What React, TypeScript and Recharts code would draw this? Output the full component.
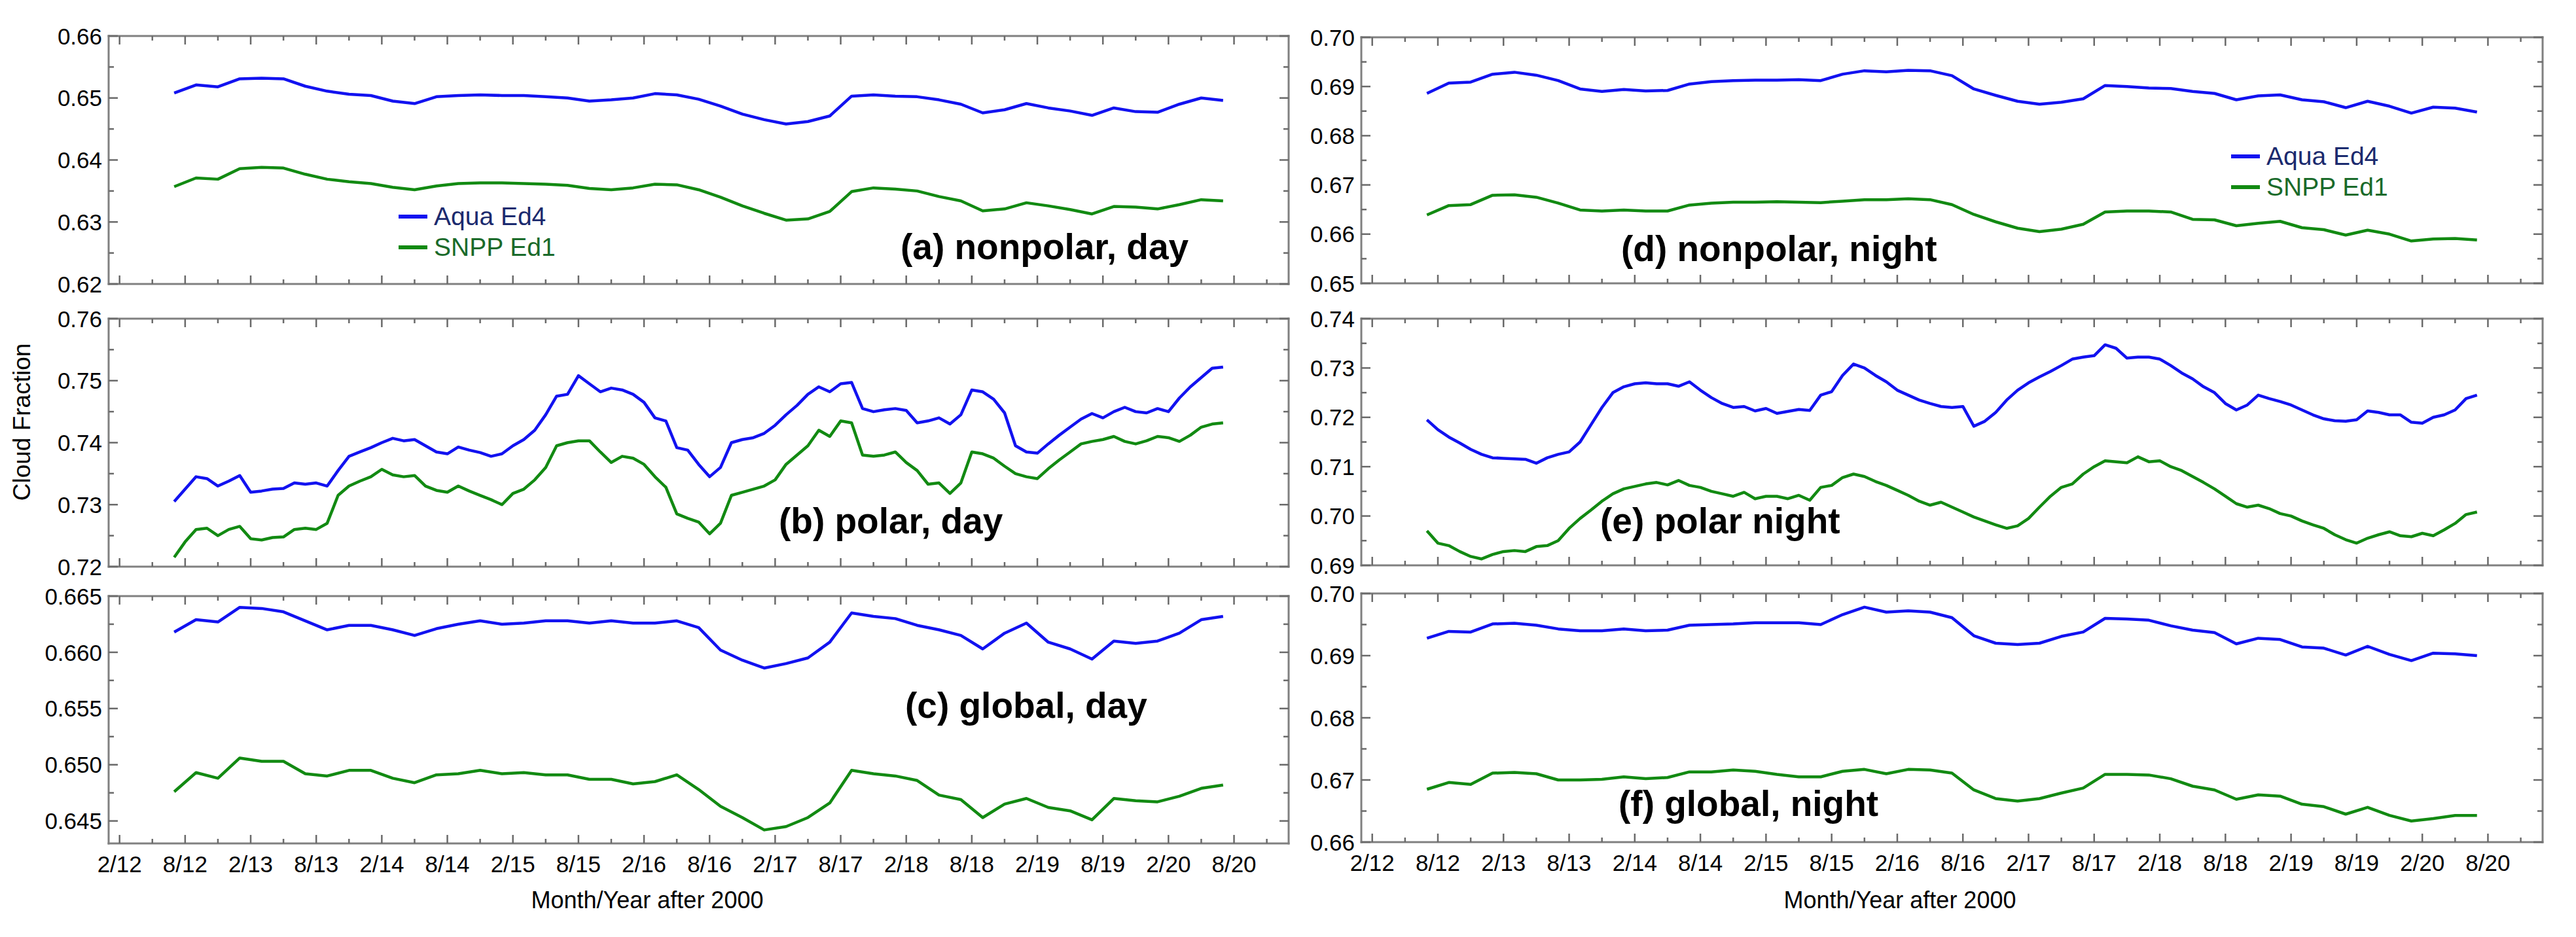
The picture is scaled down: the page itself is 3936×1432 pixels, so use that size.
import React from 'react';
import { LineChart, Line, XAxis, YAxis, Legend } from 'recharts';

const FONT = '"Liberation Sans", Arial, Helvetica, sans-serif';
const BLUE = '#1212f0';
const GREEN = '#128a12';
const FRAME = '#808080';
const TICK = '#6a6a6a';
const LEGEND_TEXT: Record<string, string> = { 'Aqua Ed4': '#1b2a6e', 'SNPP Ed1': '#1a6a2a' };

// x = months counted from January 2012 (0 = 1/12, 108 = 1/21)
const X_MAJOR = [1, 7, 13, 19, 25, 31, 37, 43, 49, 55, 61, 67, 73, 79, 85, 91, 97, 103];
const X_LABELS = ['2/12', '8/12', '2/13', '8/13', '2/14', '8/14', '2/15', '8/15', '2/16', '8/16', '2/17', '8/17', '2/18', '8/18', '2/19', '8/19', '2/20', '8/20'];
const X_MINOR = [4, 10, 16, 22, 28, 34, 40, 46, 52, 58, 64, 70, 76, 82, 88, 94, 100, 106];
const X_TICKS = [...X_MAJOR, ...X_MINOR].sort((a, b) => a - b);

const MONTHS_2 = [6, 8, 10, 12, 14, 16, 18, 20, 22, 24, 26, 28, 30, 32, 34, 36, 38, 40, 42, 44, 46, 48, 50, 52, 54, 56, 58, 60, 62, 64, 66, 68, 70, 72, 74, 76, 78, 80, 82, 84, 86, 88, 90, 92, 94, 96, 98, 100, 102];
const MONTHS_1 = [6, 7, 8, 9, 10, 11, 12, 13, 14, 15, 16, 17, 18, 19, 20, 21, 22, 23, 24, 25, 26, 27, 28, 29, 30, 31, 32, 33, 34, 35, 36, 37, 38, 39, 40, 41, 42, 43, 44, 45, 46, 47, 48, 49, 50, 51, 52, 53, 54, 55, 56, 57, 58, 59, 60, 61, 62, 63, 64, 65, 66, 67, 68, 69, 70, 71, 72, 73, 74, 75, 76, 77, 78, 79, 80, 81, 82, 83, 84, 85, 86, 87, 88, 89, 90, 91, 92, 93, 94, 95, 96, 97, 98, 99, 100, 101, 102];

// (a) nonpolar, day
const A_AQUA = [0.6508, 0.6521, 0.6518, 0.6531, 0.6532, 0.6531, 0.6519, 0.6511, 0.6506, 0.6504, 0.6495, 0.6491, 0.6502, 0.6504, 0.6505, 0.6504, 0.6504, 0.6502, 0.65, 0.6495, 0.6497, 0.65, 0.6507, 0.6505, 0.6498, 0.6487, 0.6474, 0.6465, 0.6458, 0.6462, 0.6471, 0.6503, 0.6505, 0.6503, 0.6502, 0.6497, 0.649, 0.6476, 0.6481, 0.6491, 0.6484, 0.6479, 0.6472, 0.6484, 0.6478, 0.6477, 0.649, 0.65, 0.6496];
const A_SNPP = [0.6357, 0.6371, 0.6369, 0.6386, 0.6388, 0.6387, 0.6377, 0.6369, 0.6365, 0.6362, 0.6356, 0.6352, 0.6358, 0.6362, 0.6363, 0.6363, 0.6362, 0.6361, 0.6359, 0.6354, 0.6352, 0.6355, 0.6361, 0.636, 0.6352, 0.634, 0.6326, 0.6314, 0.6303, 0.6305, 0.6317, 0.6349, 0.6355, 0.6353, 0.635, 0.6341, 0.6334, 0.6318, 0.6321, 0.6331, 0.6326, 0.632, 0.6313, 0.6325, 0.6324, 0.6321, 0.6328, 0.6336, 0.6334];

// (b) polar, day
const B_AQUA = [0.7305, 0.7325, 0.7345, 0.7342, 0.733, 0.7338, 0.7347, 0.732, 0.7322, 0.7325,
  0.7326, 0.7335, 0.7333, 0.7335, 0.733, 0.7355, 0.7378, 0.7385, 0.7392, 0.74,
  0.7407, 0.7403, 0.7405, 0.7395, 0.7385, 0.7382, 0.7393, 0.7388, 0.7384, 0.7378,
  0.7382, 0.7395, 0.7405, 0.742, 0.7445, 0.7475, 0.7478, 0.7508, 0.7495, 0.7482,
  0.7488, 0.7485, 0.7478, 0.7465, 0.744, 0.7435, 0.7392, 0.7388, 0.7365, 0.7345,
  0.736, 0.74, 0.7405, 0.7408, 0.7415, 0.7428, 0.7445, 0.746, 0.7478, 0.749,
  0.7482, 0.7495, 0.7497, 0.7455, 0.745, 0.7453, 0.7455, 0.7452, 0.7432, 0.7435,
  0.744, 0.743, 0.7445, 0.7485, 0.7482, 0.747, 0.7448, 0.7395, 0.7385, 0.7383,
  0.7398, 0.7412, 0.7425, 0.7438, 0.7447, 0.744, 0.745, 0.7457, 0.745, 0.7448,
  0.7455, 0.745, 0.7472, 0.749, 0.7505, 0.752, 0.7522];
const B_SNPP = [0.7215, 0.724, 0.726, 0.7262, 0.725, 0.726, 0.7265, 0.7245, 0.7243, 0.7247,
  0.7248, 0.726, 0.7262, 0.726, 0.727, 0.7315, 0.733, 0.7338, 0.7345, 0.7357,
  0.7348, 0.7345, 0.7347, 0.733, 0.7323, 0.732, 0.733, 0.7322, 0.7315, 0.7308,
  0.73, 0.7318, 0.7325, 0.734, 0.736, 0.7395, 0.74, 0.7403, 0.7403, 0.7385,
  0.7368, 0.7378, 0.7375, 0.7365, 0.7345, 0.7328, 0.7285, 0.7278, 0.7272, 0.7253,
  0.727, 0.7315, 0.732, 0.7325, 0.733, 0.734, 0.7365, 0.738, 0.7395, 0.742,
  0.741, 0.7435, 0.7432, 0.738, 0.7378, 0.738, 0.7385, 0.7368, 0.7355, 0.7333,
  0.7335, 0.7318, 0.7335, 0.7385, 0.7382, 0.7375, 0.7362, 0.735, 0.7345, 0.7342,
  0.7358, 0.7372, 0.7385, 0.7398, 0.7402, 0.7405, 0.741, 0.7402, 0.7398, 0.7403,
  0.741, 0.7408, 0.7402, 0.7412, 0.7425, 0.743, 0.7432];

// (c) global, day
const C_AQUA = [0.6618, 0.6629, 0.6627, 0.664, 0.6639, 0.6636, 0.6628, 0.662, 0.6624, 0.6624, 0.662, 0.6615, 0.6621, 0.6625, 0.6628, 0.6625, 0.6626, 0.6628, 0.6628, 0.6626, 0.6628, 0.6626, 0.6626, 0.6628, 0.6622, 0.6602, 0.6593, 0.6586, 0.659, 0.6595, 0.6609, 0.6635, 0.6632, 0.663, 0.6624, 0.662, 0.6615, 0.6603, 0.6617, 0.6626, 0.6609, 0.6603, 0.6594, 0.661, 0.6608, 0.661, 0.6617, 0.6629, 0.6632];
const C_SNPP = [0.6476, 0.6493, 0.6488, 0.6506, 0.6503, 0.6503, 0.6492, 0.649, 0.6495, 0.6495, 0.6488, 0.6484, 0.6491, 0.6492, 0.6495, 0.6492, 0.6493, 0.6491, 0.6491, 0.6487, 0.6487, 0.6483, 0.6485, 0.6491, 0.6478, 0.6463, 0.6453, 0.6442, 0.6445, 0.6453, 0.6466, 0.6495, 0.6492, 0.649, 0.6486, 0.6473, 0.6469, 0.6453, 0.6465, 0.647, 0.6462, 0.6459, 0.6451, 0.647, 0.6468, 0.6467, 0.6472, 0.6479, 0.6482];

// (d) nonpolar, night
const D_AQUA = [0.6886, 0.6907, 0.6909, 0.6925, 0.6929, 0.6923, 0.6912, 0.6895, 0.689, 0.6894, 0.6891, 0.6892, 0.6905, 0.691, 0.6912, 0.6913, 0.6913, 0.6914, 0.6912, 0.6925, 0.6932, 0.693, 0.6933, 0.6932, 0.6922, 0.6895, 0.6882, 0.687, 0.6864, 0.6868, 0.6875, 0.6902, 0.69, 0.6897, 0.6896, 0.689, 0.6886, 0.6873, 0.6881, 0.6883, 0.6873, 0.6869, 0.6857, 0.687, 0.686, 0.6846, 0.6858, 0.6856, 0.6848];
const D_SNPP = [0.6639, 0.6658, 0.666, 0.6679, 0.668, 0.6675, 0.6663, 0.6649, 0.6647, 0.6649, 0.6647, 0.6647, 0.6659, 0.6663, 0.6665, 0.6665, 0.6666, 0.6665, 0.6664, 0.6667, 0.667, 0.667, 0.6672, 0.667, 0.666, 0.664, 0.6625, 0.6612, 0.6605, 0.661, 0.662, 0.6645, 0.6647, 0.6647, 0.6645, 0.663, 0.6629, 0.6617, 0.6622, 0.6626, 0.6613, 0.6609, 0.6598, 0.6608, 0.66, 0.6586, 0.659, 0.6591, 0.6588];

// (e) polar night
const E_AQUA = [0.7195, 0.7175, 0.716, 0.7148, 0.7135, 0.7125, 0.7118, 0.7117, 0.7116, 0.7115,
  0.7107, 0.7118, 0.7125, 0.713, 0.715, 0.7185, 0.722, 0.725, 0.7262, 0.7268,
  0.727, 0.7268, 0.7268, 0.7263, 0.7272, 0.7255, 0.724, 0.7228, 0.722, 0.7222,
  0.7213, 0.7218, 0.7208, 0.7212, 0.7216, 0.7214, 0.7245, 0.7252, 0.7285, 0.7308,
  0.73, 0.7285, 0.7272, 0.7255, 0.7245, 0.7235, 0.7228, 0.7222, 0.722, 0.7222,
  0.7182, 0.7192, 0.721, 0.7235, 0.7255, 0.727, 0.7282, 0.7293, 0.7305, 0.7318,
  0.7322, 0.7325, 0.7347, 0.734, 0.732, 0.7322, 0.7322, 0.7318, 0.7305, 0.729,
  0.7278, 0.7262, 0.725, 0.7228, 0.7215, 0.7225, 0.7245, 0.7238, 0.7232, 0.7225,
  0.7215, 0.7205, 0.7197, 0.7193, 0.7192, 0.7195, 0.7213, 0.721, 0.7205, 0.7205,
  0.719, 0.7188, 0.72, 0.7205, 0.7215, 0.7238, 0.7245];
const E_SNPP = [0.697, 0.6945, 0.694, 0.6928, 0.6918, 0.6913, 0.6922, 0.6928, 0.693, 0.6928,
  0.6938, 0.694, 0.695, 0.6975, 0.6995, 0.7012, 0.703, 0.7045, 0.7055, 0.706,
  0.7065, 0.7068, 0.7063, 0.7072, 0.7062, 0.7058, 0.705, 0.7045, 0.704, 0.7048,
  0.7035, 0.704, 0.704, 0.7035, 0.7042, 0.7032, 0.7058, 0.7062, 0.7078, 0.7085,
  0.708, 0.707, 0.7062, 0.7052, 0.7042, 0.703, 0.7022, 0.7028, 0.7018, 0.7008,
  0.6998, 0.699, 0.6982, 0.6975, 0.698, 0.6995, 0.7018, 0.704, 0.7058, 0.7065,
  0.7085, 0.71, 0.7112, 0.711, 0.7108, 0.712, 0.711, 0.7112, 0.71, 0.7092,
  0.708, 0.7068, 0.7055, 0.704, 0.7025, 0.7018, 0.7022, 0.7015, 0.7005, 0.7,
  0.699, 0.6982, 0.6975, 0.6962, 0.6952, 0.6945, 0.6955, 0.6962, 0.6968, 0.696,
  0.6958, 0.6965, 0.696, 0.6972, 0.6985, 0.7003, 0.7008];

// (f) global, night
const F_AQUA = [0.6928, 0.6939, 0.6938, 0.6951, 0.6952, 0.6949, 0.6943, 0.694, 0.694, 0.6943, 0.694, 0.6941, 0.6949, 0.695, 0.6951, 0.6953, 0.6953, 0.6953, 0.695, 0.6966, 0.6978, 0.697, 0.6972, 0.697, 0.6961, 0.6932, 0.692, 0.6918, 0.692, 0.6931, 0.6938, 0.696, 0.6959, 0.6957, 0.6948, 0.6941, 0.6937, 0.6919, 0.6928, 0.6926, 0.6914, 0.6912, 0.6901, 0.6915, 0.6902, 0.6892, 0.6904, 0.6903, 0.69];
const F_SNPP = [0.6685, 0.6696, 0.6693, 0.6711, 0.6712, 0.671, 0.67, 0.67, 0.6701, 0.6705, 0.6702, 0.6704, 0.6713, 0.6713, 0.6716, 0.6714, 0.6709, 0.6705, 0.6705, 0.6714, 0.6717, 0.671, 0.6717, 0.6716, 0.6711, 0.6684, 0.667, 0.6666, 0.667, 0.6679, 0.6687, 0.6709, 0.6709, 0.6708, 0.6702, 0.669, 0.6684, 0.6669, 0.6676, 0.6674, 0.6661, 0.6657, 0.6645, 0.6656, 0.6643, 0.6634, 0.6638, 0.6643, 0.6643];

// y-axis ticks per panel
const A_Y_MAJOR = [0.62, 0.63, 0.64, 0.65, 0.66];
const A_Y_LABELS = ['0.62', '0.63', '0.64', '0.65', '0.66'];
const A_Y_MINOR = [0.625, 0.635, 0.645, 0.655];
const B_Y_MAJOR = [0.72, 0.73, 0.74, 0.75, 0.76];
const B_Y_LABELS = ['0.72', '0.73', '0.74', '0.75', '0.76'];
const B_Y_MINOR = [0.725, 0.735, 0.745, 0.755];
const C_Y_MAJOR = [0.645, 0.65, 0.655, 0.66, 0.665];
const C_Y_LABELS = ['0.645', '0.650', '0.655', '0.660', '0.665'];
const C_Y_MINOR = [0.6475, 0.6525, 0.6575, 0.6625];
const D_Y_MAJOR = [0.65, 0.66, 0.67, 0.68, 0.69, 0.7];
const D_Y_LABELS = ['0.65', '0.66', '0.67', '0.68', '0.69', '0.70'];
const D_Y_MINOR = [0.655, 0.665, 0.675, 0.685, 0.695];
const E_Y_MAJOR = [0.69, 0.7, 0.71, 0.72, 0.73, 0.74];
const E_Y_LABELS = ['0.69', '0.70', '0.71', '0.72', '0.73', '0.74'];
const E_Y_MINOR = [0.695, 0.705, 0.715, 0.725, 0.735];
const F_Y_MAJOR = [0.66, 0.67, 0.68, 0.69, 0.7];
const F_Y_LABELS = ['0.66', '0.67', '0.68', '0.69', '0.70'];
const F_Y_MINOR = [0.665, 0.675, 0.685, 0.695];

const PAD_TOP = 30;

const PANELS = [
  { title: '(a) nonpolar, day', tx: 1376, ty: 396, box: [166, 1969, 55, 434], months: MONTHS_2, aqua: A_AQUA, snpp: A_SNPP, domain: [0.62, 0.66], yMajor: A_Y_MAJOR, yLabels: A_Y_LABELS, yMinor: A_Y_MINOR, xLabels: false, legend: { left: 583, top: 282 } },
  { title: '(b) polar, day', tx: 1190, ty: 815, box: [166, 1969, 487, 866], months: MONTHS_1, aqua: B_AQUA, snpp: B_SNPP, domain: [0.72, 0.76], yMajor: B_Y_MAJOR, yLabels: B_Y_LABELS, yMinor: B_Y_MINOR, xLabels: false, legend: null },
  { title: '(c) global, day', tx: 1383, ty: 1097, box: [166, 1969, 911, 1289], months: MONTHS_2, aqua: C_AQUA, snpp: C_SNPP, domain: [0.643, 0.665], yMajor: C_Y_MAJOR, yLabels: C_Y_LABELS, yMinor: C_Y_MINOR, xLabels: true, legend: null },
  { title: '(d) nonpolar, night', tx: 2477, ty: 399, box: [2080, 3885, 57, 433], months: MONTHS_2, aqua: D_AQUA, snpp: D_SNPP, domain: [0.65, 0.7], yMajor: D_Y_MAJOR, yLabels: D_Y_LABELS, yMinor: D_Y_MINOR, xLabels: false, legend: { left: 1469, top: 188 } },
  { title: '(e) polar night', tx: 2445, ty: 815, box: [2080, 3885, 487, 864], months: MONTHS_1, aqua: E_AQUA, snpp: E_SNPP, domain: [0.69, 0.74], yMajor: E_Y_MAJOR, yLabels: E_Y_LABELS, yMinor: E_Y_MINOR, xLabels: false, legend: null },
  { title: '(f) global, night', tx: 2473, ty: 1247, box: [2080, 3885, 907, 1287], months: MONTHS_2, aqua: F_AQUA, snpp: F_SNPP, domain: [0.66, 0.7], yMajor: F_Y_MAJOR, yLabels: F_Y_LABELS, yMinor: F_Y_MINOR, xLabels: true, legend: null },
];

const frameLine = { stroke: FRAME, strokeWidth: 3, strokeLinecap: 'square' as const };

const findTick = (arr: number[], v: number) => arr.findIndex((a) => Math.abs(a - v) < 1e-9);

const bottomTick = (withLabels: boolean) => (p: any) => {
  const i = X_MAJOR.indexOf(p.payload.value);
  const len = i >= 0 ? 13 : 7;
  return (
    <g>
      <line x1={p.x} y1={p.y} x2={p.x} y2={p.y - len} stroke={TICK} strokeWidth={2.5} />
      {withLabels && i >= 0 ? (
        <text x={p.x} y={p.y + 44} textAnchor="middle" fontSize={35} fontFamily={FONT} fill="#000">
          {X_LABELS[i]}
        </text>
      ) : null}
    </g>
  );
};

const topTick = (p: any) => {
  const len = X_MAJOR.indexOf(p.payload.value) >= 0 ? 13 : 7;
  return <line x1={p.x} y1={p.y} x2={p.x} y2={p.y + len} stroke={TICK} strokeWidth={2.5} />;
};

const leftTick = (major: number[], labels: string[]) => (p: any) => {
  const i = findTick(major, p.payload.value);
  const len = i >= 0 ? 14 : 8;
  return (
    <g>
      <line x1={p.x} y1={p.y} x2={p.x + len} y2={p.y} stroke={TICK} strokeWidth={2.5} />
      {i >= 0 ? (
        <text x={p.x - 10} y={p.y} dy="0.36em" textAnchor="end" fontSize={35} fontFamily={FONT} fill="#000">
          {labels[i]}
        </text>
      ) : null}
    </g>
  );
};

const rightTick = (major: number[]) => (p: any) => {
  const len = findTick(major, p.payload.value) >= 0 ? 14 : 8;
  return <line x1={p.x} y1={p.y} x2={p.x - len} y2={p.y} stroke={TICK} strokeWidth={2.5} />;
};

const renderLegend = (props: any) => (
  <div style={{ fontFamily: FONT, fontSize: 39 }}>
    {(props.payload || []).map((e: any) => (
      <div key={e.value} style={{ display: 'flex', alignItems: 'center', height: 47, whiteSpace: 'nowrap' }}>
        <span style={{ display: 'inline-block', width: 44, height: 6, background: e.color, marginRight: 10 }} />
        <span style={{ color: LEGEND_TEXT[e.value], lineHeight: '47px' }}>{e.value}</span>
      </div>
    ))}
  </div>
);

function Panel({ cfg }: { cfg: (typeof PANELS)[number] }) {
  const [L, R, T, B] = cfg.box;
  const bottomH = cfg.xLabels ? 70 : 20;
  const W = R - L + 160;
  const H = B - T + PAD_TOP + bottomH;
  const data = cfg.months.map((m, i) => ({ m, aqua: cfg.aqua[i], snpp: cfg.snpp[i] }));
  const yTicks = [...cfg.yMajor, ...cfg.yMinor].sort((a, b) => a - b);
  return (
    <div style={{ position: 'absolute', left: L - 140, top: T - PAD_TOP, width: W, height: H }}>
      <LineChart width={W} height={H} data={data} margin={{ top: PAD_TOP - 1, right: 19, bottom: 0, left: 0 }}>
        <XAxis dataKey="m" type="number" domain={[0, 108]} allowDataOverflow ticks={X_TICKS} interval={0}
          height={bottomH} tickSize={0} tickMargin={0} tickLine={false} axisLine={frameLine} tick={bottomTick(cfg.xLabels)} />
        <XAxis xAxisId="t" orientation="top" dataKey="m" type="number" domain={[0, 108]} allowDataOverflow ticks={X_TICKS}
          interval={0} height={1} tickSize={0} tickMargin={0} tickLine={false} axisLine={frameLine} tick={topTick} />
        <YAxis type="number" domain={cfg.domain} allowDataOverflow ticks={yTicks} interval={0} width={140}
          tickSize={0} tickMargin={0} tickLine={false} axisLine={frameLine} tick={leftTick(cfg.yMajor, cfg.yLabels)} />
        <YAxis yAxisId="r" orientation="right" type="number" domain={cfg.domain} allowDataOverflow ticks={yTicks}
          interval={0} width={1} tickSize={0} tickMargin={0} tickLine={false} axisLine={frameLine} tick={rightTick(cfg.yMajor)} />
        {cfg.legend ? (
          <Legend layout="vertical" align="center" verticalAlign="middle" content={renderLegend}
            wrapperStyle={{ left: cfg.legend.left, top: cfg.legend.top, width: 320, height: 94 }} />
        ) : null}
        <Line type="linear" dataKey="aqua" name="Aqua Ed4" stroke={BLUE} strokeWidth={4.5} dot={false}
          activeDot={false} isAnimationActive={false} strokeLinejoin="round" />
        <Line type="linear" dataKey="snpp" name="SNPP Ed1" stroke={GREEN} strokeWidth={4.5} dot={false}
          activeDot={false} isAnimationActive={false} strokeLinejoin="round" />
      </LineChart>
    </div>
  );
}

export default function App() {
  return (
    <div style={{ position: 'absolute', left: 0, top: 0, width: 3936, height: 1432, background: '#fff', fontFamily: FONT }}>
      {PANELS.map((p) => (
        <Panel key={p.title} cfg={p} />
      ))}
      <svg width={3936} height={1432} style={{ position: 'absolute', left: 0, top: 0, pointerEvents: 'none' }}>
        {PANELS.map((p) => (
          <text key={p.title} x={p.tx} y={p.ty} fontSize={55} fontWeight="bold" fontFamily={FONT} fill="#000">
            {p.title}
          </text>
        ))}
        <text x={989} y={1388} textAnchor="middle" fontSize={36} fontFamily={FONT} fill="#000">Month/Year after 2000</text>
        <text x={2903} y={1388} textAnchor="middle" fontSize={36} fontFamily={FONT} fill="#000">Month/Year after 2000</text>
        <text transform="translate(46,645) rotate(-90)" textAnchor="middle" fontSize={37} fontFamily={FONT} fill="#000">Cloud Fraction</text>
      </svg>
    </div>
  );
}
